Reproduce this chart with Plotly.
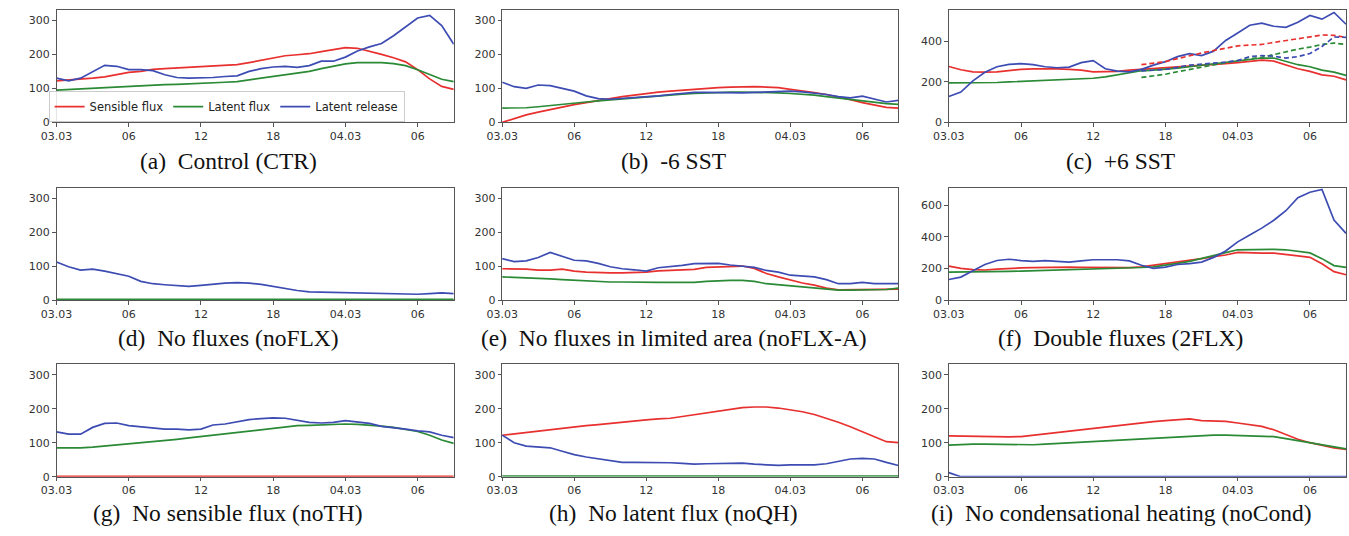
import plotly.graph_objects as go
from plotly.subplots import make_subplots

# hours since 03.03 00 UTC
hours = list(range(34))
tick_vals = [0, 6, 12, 18, 24, 30]
tick_text = ["03.03", "06", "12", "18", "04.03", "06"]

series_names = ["Sensible flux", "Latent flux", "Latent release"]
colors = ["#e8302f", "#2a8a36", "#3d4cb3"]

# (a) Control (CTR)
ctr_sens = [122, 124, 127, 130, 134, 140, 147, 150, 156, 158, 160, 162, 165, 166, 168, 170,
            176, 183, 190, 196, 199, 202, 208, 215, 220, 218, 210, 200, 190, 178, 155, 128, 106, 97]
ctr_lat = [95, 97, 99, 101, 103, 105, 107, 108, 110, 111, 112, 113, 115, 116, 118, 120,
           125, 130, 135, 140, 145, 150, 158, 166, 172, 176, 177, 176, 173, 167, 155, 140, 127, 120]
ctr_rel = [130, 122, 130, 150, 168, 165, 155, 155, 152, 140, 132, 130, 130, 132, 135, 137,
           150, 158, 163, 165, 162, 167, 180, 180, 192, 210, 222, 232, 255, 280, 307, 315, 285, 230]

# (b) -6 SST
m6_sens = [0, 12, 22, 30, 38, 46, 52, 58, 63, 70, 76, 81, 85, 89, 92, 95,
           97, 100, 102, 104, 105, 105, 104, 102, 97, 93, 88, 82, 75, 67, 58, 50, 44, 42]
m6_lat = [42, 42, 43, 46, 50, 53, 57, 60, 63, 66, 70, 72, 75, 78, 80, 83,
          85, 87, 88, 89, 89, 89, 88, 87, 85, 83, 80, 76, 72, 67, 62, 58, 55, 53]
m6_rel = [118, 105, 100, 110, 108, 100, 92, 78, 70, 68, 70, 72, 75, 78, 82, 85,
          88, 88, 87, 87, 87, 88, 90, 91, 92, 90, 87, 82, 76, 72, 77, 68, 60, 65]

# (c) +6 SST, solid
p6_sens = [276, 260, 250, 248, 250, 257, 262, 264, 265, 264, 262, 258, 250, 250, 252, 258,
           262, 265, 268, 272, 275, 280, 285, 290, 295, 302, 308, 303, 285, 265, 252, 235, 228, 210]
p6_lat = [195, 195, 195, 195, 197, 200, 203, 205, 208, 210, 212, 215, 218, 225, 235, 248,
          255, 258, 262, 268, 275, 282, 290, 296, 302, 312, 318, 318, 300, 285, 275, 258, 248, 232]
p6_rel = [128, 150, 205, 248, 275, 287, 290, 285, 275, 270, 273, 295, 305, 265, 253, 250,
          262, 283, 300, 325, 340, 330, 352, 405, 442, 480, 490, 475, 470, 495, 528, 510, 543, 485]
# (c) +6 SST, dashed (from hour 16)
p6_hours_d = list(range(16, 34))
p6_sens_d = [285, 292, 300, 315, 330, 343, 355, 367, 378, 382, 385, 395, 405, 415, 425, 432, 430, 420]
p6_lat_d = [222, 230, 238, 250, 262, 273, 285, 295, 305, 313, 322, 335, 350, 362, 372, 385, 392, 385]
p6_rel_d = [255, 258, 262, 272, 283, 288, 292, 298, 305, 325, 330, 327, 318, 325, 340, 375, 422, 420]

# (d) No fluxes (noFLX)
nf_sens = [0] * 34
nf_lat = [2] * 34
nf_rel = [112, 98, 88, 91, 85, 78, 70, 55, 48, 45, 42, 40, 43, 47, 50, 51,
          50, 46, 40, 33, 28, 24, 23, 23, 23, 22, 20, 19, 19, 18, 17, 19, 21, 19]

# (e) No fluxes in limited area (noFLX-A)
na_sens = [92, 92, 91, 88, 88, 91, 85, 82, 80, 80, 80, 81, 82, 86, 87, 88,
           90, 96, 98, 100, 100, 93, 78, 68, 58, 50, 44, 35, 30, 30, 30, 30, 30, 32]
na_lat = [68, 67, 66, 64, 62, 60, 58, 56, 54, 53, 53, 52, 52, 52, 52, 52,
          52, 55, 57, 58, 58, 55, 48, 45, 42, 38, 35, 32, 29, 29, 30, 31, 31, 35]
na_rel = [122, 113, 115, 125, 140, 128, 117, 115, 108, 98, 92, 89, 85, 95, 98, 102,
          107, 108, 108, 103, 100, 96, 87, 82, 73, 70, 68, 60, 48, 48, 52, 48, 48, 48]

# (f) Double fluxes (2FLX)
df_sens = [215, 200, 192, 190, 195, 200, 203, 205, 207, 208, 208, 207, 207, 206, 205, 205,
           210, 220, 230, 240, 250, 262, 275, 285, 302, 298, 297, 297, 290, 280, 270, 230, 180, 160]
df_lat = [177, 177, 177, 177, 179, 181, 183, 185, 188, 190, 192, 195, 197, 199, 201, 203,
          206, 210, 220, 232, 245, 262, 280, 300, 318, 320, 322, 321, 318, 308, 298, 262, 218, 207]
df_rel = [130, 145, 185, 225, 250, 258, 250, 245, 250, 245, 240, 248, 255, 255, 255, 248,
          220, 200, 208, 225, 230, 240, 270, 310, 368, 412, 455, 505, 565, 648, 682, 700, 506, 422]

# (g) No sensible flux (noTH)
nt_sens = [1] * 34
nt_lat = [85, 84, 85, 87, 90, 93, 97, 100, 103, 107, 110, 114, 118, 122, 126, 130,
          134, 138, 143, 147, 150, 151, 153, 154, 155, 154, 152, 149, 145, 139, 133, 122, 108, 98]
nt_rel = [132, 125, 125, 145, 157, 158, 150, 146, 142, 140, 140, 138, 140, 152, 155, 162,
          168, 171, 173, 172, 166, 160, 158, 160, 165, 160, 157, 148, 145, 140, 135, 132, 122, 115]

# (h) No latent flux (noQH)
nq_sens = [122, 126, 131, 135, 140, 144, 148, 150, 153, 157, 161, 164, 167, 170, 172, 177,
           182, 187, 193, 198, 203, 205, 205, 202, 197, 191, 183, 172, 160, 147, 133, 117, 103, 100]
nq_lat = [2] * 34
nq_rel = [122, 100, 90, 88, 85, 75, 65, 58, 53, 46, 42, 42, 42, 42, 41, 39,
          37, 38, 39, 40, 40, 37, 35, 33, 35, 35, 35, 38, 45, 52, 54, 52, 42, 33]

# (i) No condensational heating (noCond)
nc_sens = [120, 119, 118, 117, 117, 117, 118, 122, 126, 130, 135, 139, 143, 148, 152, 155,
           158, 162, 165, 168, 170, 165, 164, 163, 158, 153, 148, 138, 125, 110, 100, 92, 85, 80]
nc_lat = [93, 95, 96, 96, 95, 94, 93, 94, 96, 98, 100, 101, 103, 105, 107, 108,
          110, 113, 115, 118, 120, 121, 122, 122, 121, 120, 119, 118, 112, 106, 100, 95, 88, 82]
nc_rel = [12, 0, 0, 0, 0, 0, 0, 0, 0, 0, 0, 0, 0, 0, 0, 0,
          0, 0, 0, 0, 0, 0, 0, 0, 0, 0, 0, 0, 0, 0, 0, 0, 0, 0]

panel_titles = [
    "(a)\u00a0 Control (CTR)",
    "(b)\u00a0 -6 SST",
    "(c)\u00a0 +6 SST",
    "(d)\u00a0 No fluxes (noFLX)",
    "(e)\u00a0 No fluxes in limited area (noFLX-A)",
    "(f)\u00a0 Double fluxes (2FLX)",
    "(g)\u00a0 No sensible flux (noTH)",
    "(h)\u00a0 No latent flux (noQH)",
    "(i)\u00a0 No condensational heating (noCond)",
]

panels = [
    (ctr_sens, ctr_lat, ctr_rel),
    (m6_sens, m6_lat, m6_rel),
    (p6_sens, p6_lat, p6_rel),
    (nf_sens, nf_lat, nf_rel),
    (na_sens, na_lat, na_rel),
    (df_sens, df_lat, df_rel),
    (nt_sens, nt_lat, nt_rel),
    (nq_sens, nq_lat, nq_rel),
    (nc_sens, nc_lat, nc_rel),
]

y_tops = [331, 331, 556, 331, 331, 712, 331, 331, 331]
y_ticks = [
    [0, 100, 200, 300], [0, 100, 200, 300], [0, 200, 400],
    [0, 100, 200, 300], [0, 100, 200, 300], [0, 200, 400, 600],
    [0, 100, 200, 300], [0, 100, 200, 300], [0, 100, 200, 300],
]

W, H = 1349, 536
col_px = [(41, 443), (492, 893), (944, 1346)]
row_px = [(10, 124), (190, 304), (369, 483)]
title_px_y = [163, 342, 520]

fig = make_subplots(rows=3, cols=3)

for i, (vals, top, ticks) in enumerate(zip(panels, y_tops, y_ticks)):
    r, c = divmod(i, 3)
    for k, (name, col, y) in enumerate(zip(series_names, colors, vals)):
        fig.add_trace(
            go.Scatter(x=hours, y=y, mode="lines", name=name,
                       line=dict(color=col, width=1.7),
                       showlegend=(i == 0), legendrank=k),
            row=r + 1, col=c + 1)
    if i == 2:
        for name, col, y in zip(series_names, colors, [p6_sens_d, p6_lat_d, p6_rel_d]):
            fig.add_trace(
                go.Scatter(x=p6_hours_d, y=y, mode="lines", name=name + " (dashed)",
                           line=dict(color=col, width=1.7, dash="5px,3px"),
                           showlegend=False),
                row=r + 1, col=c + 1)

    x0, x1 = col_px[c]
    y0, y1 = row_px[r]
    axis_common = dict(showline=True, mirror=True, linecolor="#555555", linewidth=1,
                       showgrid=False, zeroline=False, ticks="outside", ticklen=3.5,
                       tickwidth=1, tickcolor="#555555",
                       tickfont=dict(family="DejaVu Sans", size=11, color="#333333"))
    fig.update_xaxes(domain=[x0 / W, x1 / W], range=[0, 33], tickvals=tick_vals,
                     ticktext=tick_text, row=r + 1, col=c + 1, **axis_common)
    fig.update_yaxes(domain=[1 - y1 / H, 1 - y0 / H], range=[0, top], tickvals=ticks,
                     row=r + 1, col=c + 1, **axis_common)

    fig.add_annotation(text=panel_titles[i], xref="paper", yref="paper",
                       x=((x0 + x1) / 2 - 27) / W, y=1 - title_px_y[r] / H,
                       xanchor="center", yanchor="middle", showarrow=False,
                       font=dict(family="Liberation Serif", size=23.5, color="#111111"))

fig.update_layout(
    width=W, height=H,
    margin=dict(l=0, r=0, t=0, b=0),
    paper_bgcolor="white", plot_bgcolor="white",
    legend=dict(orientation="h", x=33 / W, y=1 - 108 / H, xanchor="left", yanchor="middle",
                bgcolor="rgba(255,255,255,0.85)", bordercolor="#cccccc", borderwidth=1,
                font=dict(family="DejaVu Sans", size=11.5, color="#222222"),
                itemwidth=30, tracegroupgap=0),
)

fig.write_html("out.html")
